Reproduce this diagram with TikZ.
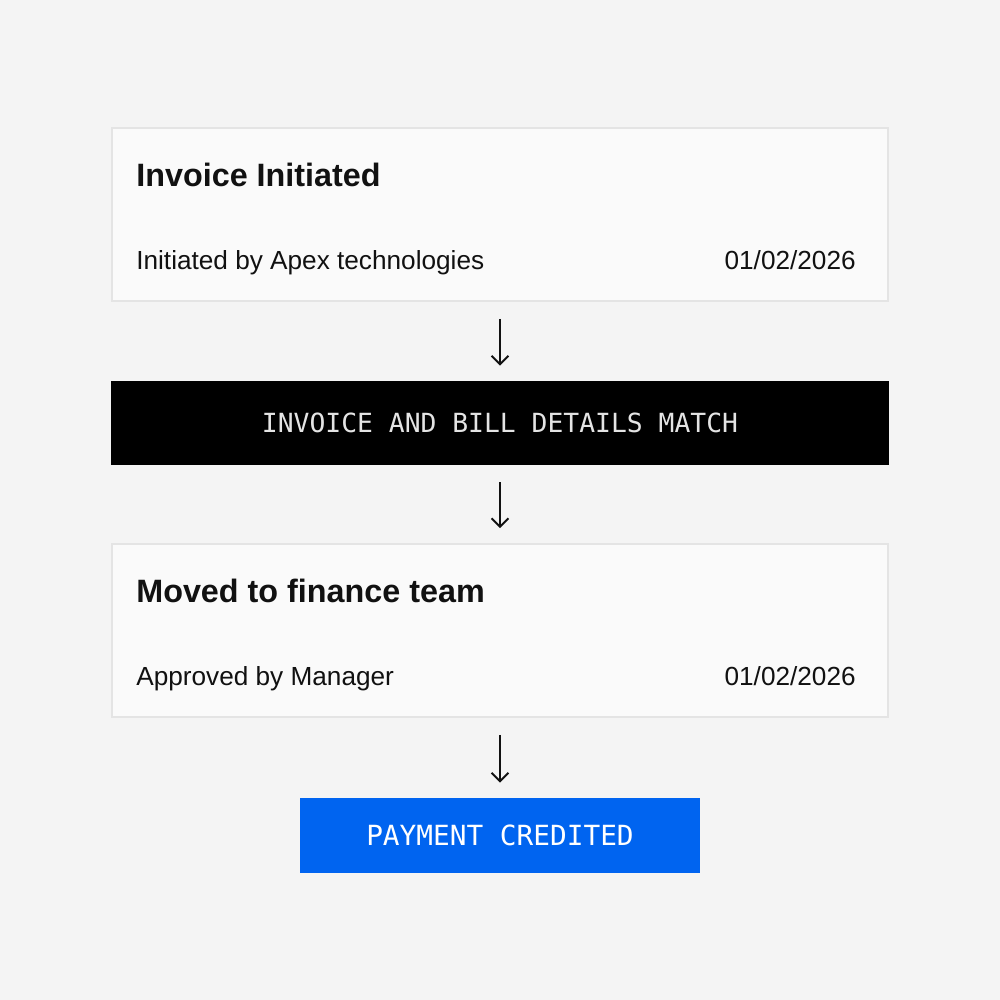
\documentclass[tikz,border=0pt]{standalone}
\usepackage{fontspec}
\setmainfont{Liberation Sans}
\setmonofont{DejaVu Sans Mono}
\usetikzlibrary{arrows, arrows.meta, calc}
\definecolor{page}{HTML}{F4F4F4}
\definecolor{cardfill}{HTML}{FAFAFA}
\definecolor{cardline}{HTML}{E4E4E4}
\definecolor{ink}{HTML}{111111}
\definecolor{credit}{HTML}{0064F0}
\tikzstyle{card} = [
    rectangle,
    minimum width = 15.52cm,
    minimum height = 3.46cm,
    inner sep = 0pt,
    fill = cardfill,
    draw = cardline,
    line width = 1pt,
]
\tikzstyle{banner} = [
    rectangle,
    minimum height = 1.68cm,
    inner sep = 0pt,
    font = \ttfamily\fontsize{15}{18}\selectfont,
]
\tikzstyle{heading} = [anchor = base west, text = ink, font = \bfseries\fontsize{18.4}{22}\selectfont]
\tikzstyle{detail} = [text = ink, font = \fontsize{14.9}{18}\selectfont]
\tikzstyle{flow} = [-{Straight Barb[length = 0.17cm, width = 0.34cm]}, line width = 1.1pt, draw = ink, shorten <= 0.34cm, shorten >= 0.3cm]

\begin{document}
\begin{tikzpicture}
    \fill[page] (0,0) rectangle (20,-20);
    \useasboundingbox (0,0) rectangle (20,-20);

    \node (invoice) [card] at (10,-4.29) {};
    \node (match) [banner, fill = black, text = cardline, minimum width = 15.56cm] at (10,-8.46) {INVOICE AND BILL DETAILS MATCH};
    \node (finance) [card] at (10,-12.61) {};
    \node (payment) [banner, fill = credit, text = white, minimum width = 8cm, minimum height = 1.5cm, font = \ttfamily\fontsize{15.8}{18}\selectfont] at (10,-16.71) {PAYMENT CREDITED};

    % texts of the cards
    \node (invoicetitle) [heading] at ($(invoice.north west) + (0.38,-1.18)$) {Invoice Initiated};
    \node (invoiceby) [detail, anchor = base west] at ($(invoice.north west) + (0.38,-2.84)$) {Initiated by Apex technologies};
    \node (invoicedate) [detail, anchor = base east] at ($(invoice.north east) + (-0.54,-2.84)$) {01/02/2026};
    \node (financetitle) [heading] at ($(finance.north west) + (0.38,-1.18)$) {Moved to finance team};
    \node (financeby) [detail, anchor = base west] at ($(finance.north west) + (0.38,-2.84)$) {Approved by Manager};
    \node (financedate) [detail, anchor = base east] at ($(finance.north east) + (-0.54,-2.84)$) {01/02/2026};

    \draw[flow] (invoice) -- (match);
    \draw[flow] (match) -- (finance);
    \draw[flow] (finance) -- (payment);
\end{tikzpicture}
\end{document}
